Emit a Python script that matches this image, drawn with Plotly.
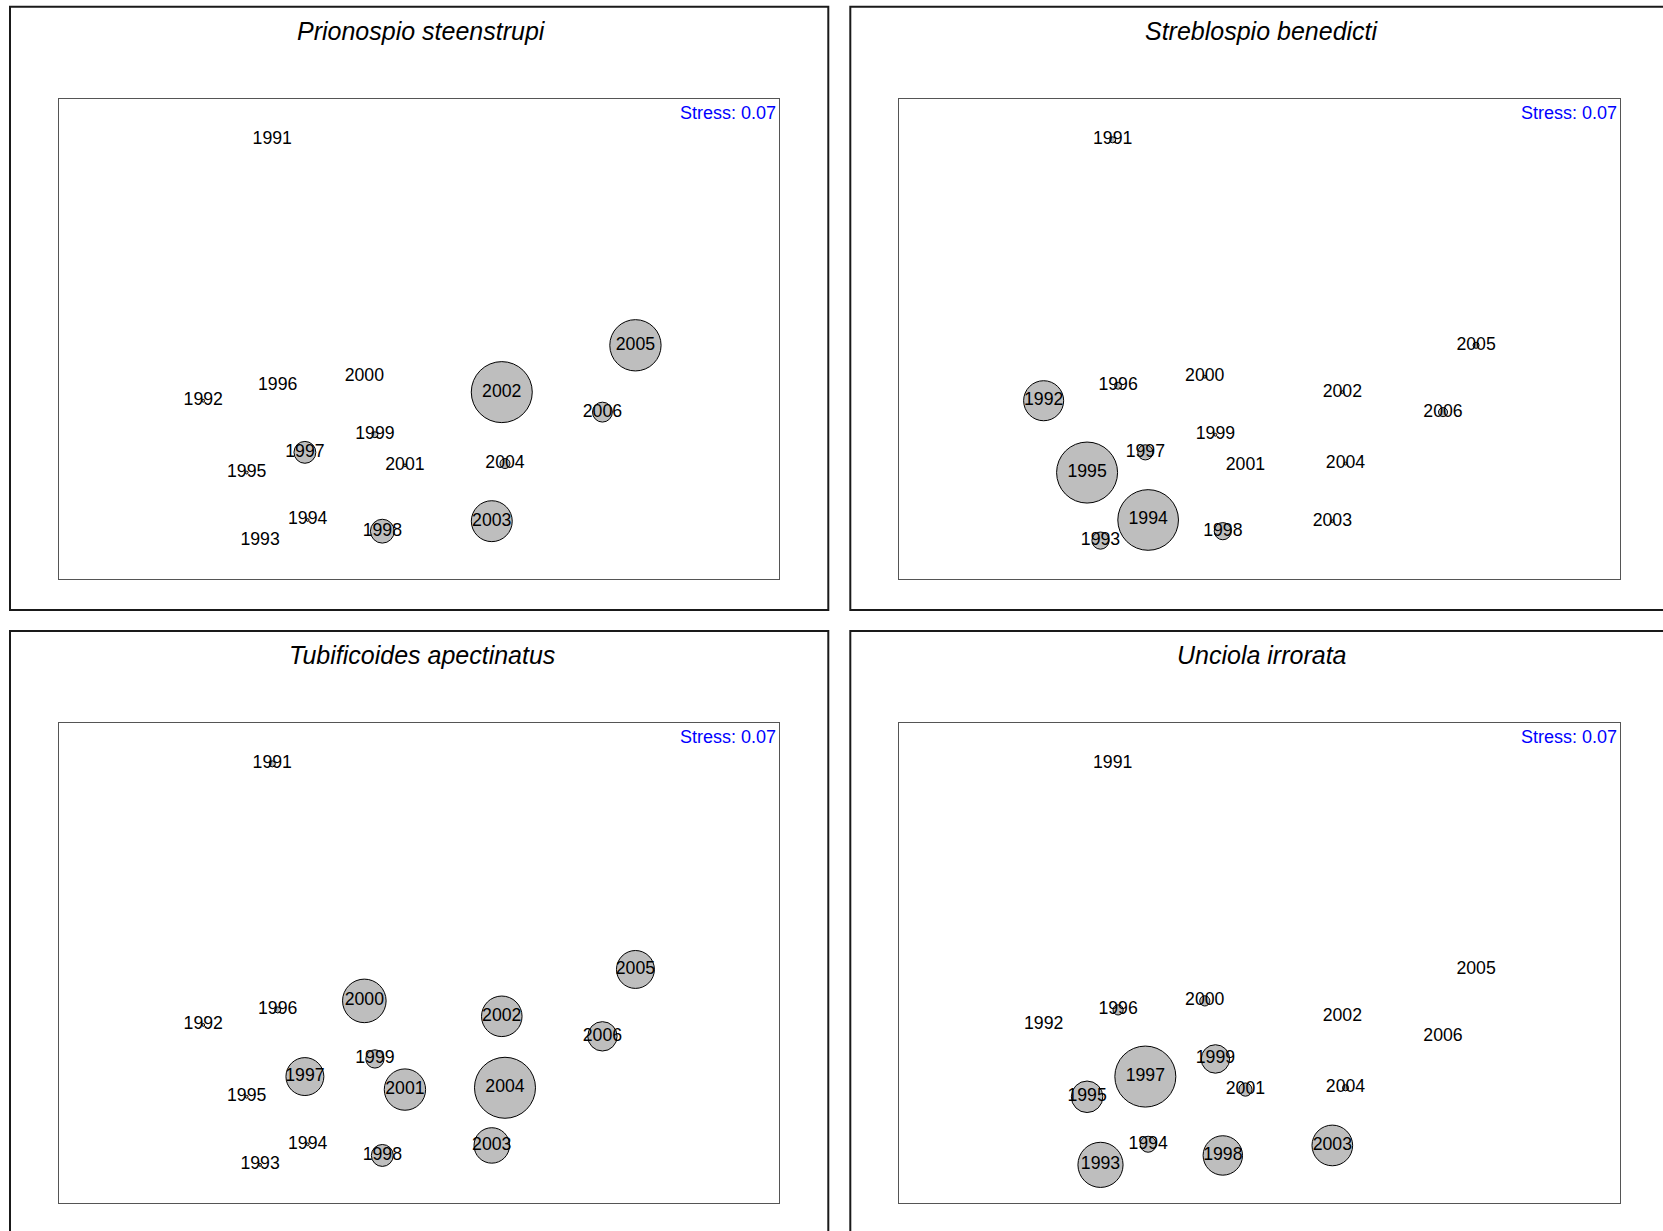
import plotly.graph_objects as go

# ---------------- data ----------------
years = ["1991", "1992", "1993", "1994", "1995", "1996", "1997", "1998",
         "1999", "2000", "2001", "2002", "2003", "2004", "2005", "2006"]

# nMDS ordination coordinates of the yearly samples (same in all panels)
mds1 = [-0.734, -1.079, -0.795, -0.557, -0.862, -0.707, -0.571, -0.184,
        -0.221, -0.274, -0.071, 0.413, 0.363, 0.429, 1.081, 0.916]
mds2 = [0.995, -0.309, -1.008, -0.905, -0.668, -0.234, -0.567, -0.961,
        -0.479, -0.189, -0.632, -0.266, -0.911, -0.623, -0.032, -0.366]

species = ["Prionospio steenstrupi", "Streblospio benedicti",
           "Tubificoides apectinatus", "Unciola irrorata"]

# relative abundance of each species per year (bubble area)
abund_prionospio = [0, 0.2, 0, 0.2, 0.2, 0, 12.1, 14.4,
                    0.9, 0, 0.2, 94.2, 42.4, 2.5, 66.6, 10.0]
abund_streblospio = [0.9, 39.2, 7.2, 90.0, 91.0, 1.2, 5.6, 7.2,
                     0.2, 0.2, 0, 0.2, 0.2, 0.2, 0.9, 2.0]
abund_tubificoides = [0.9, 0.2, 0.2, 0.2, 0.2, 0.9, 35.0, 11.7,
                      8.1, 46.2, 41.6, 40.0, 30.6, 90.6, 35.0, 21.0]
abund_unciola = [0, 0, 49.3, 6.2, 24.0, 2.5, 90.0, 37.6,
                 19.6, 2.5, 4.2, 0, 40.0, 0.9, 0, 0]

stress_value = 0.07

# ---------------- figure ----------------
W, H = 1663, 1231
FONT = "Liberation Sans, Arial, Helvetica, sans-serif"
D_MAX = 61  # diameter (px) of the largest bubble in each panel

panels = [(species[0], abund_prionospio), (species[1], abund_streblospio),
          (species[2], abund_tubificoides), (species[3], abund_unciola)]
axis_ids = ["", "2", "3", "4"]

# pixel geometry
inner_x = [(59.0, 779.3), (899.3, 1620.0)]
inner_y = [(98.8, 579.0), (722.8, 1203.3)]
outer_x = [(10.0, 828.3), (850.3, 1670.0)]
outer_y = [(6.7, 610.0), (631.0, 1240.0)]

fig = go.Figure()
shapes = []
annotations = []
layout_axes = {}

for i, (name, ab) in enumerate(panels):
    sid = axis_ids[i]
    col, row = i % 2, i // 2
    fig.add_trace(go.Scatter(
        x=mds1, y=mds2, text=years, mode="markers+text",
        xaxis="x" + sid, yaxis="y" + sid,
        marker=dict(size=ab, sizemode="area",
                    sizeref=2.0 * max(ab) / D_MAX ** 2,
                    color="#BEBEBE", opacity=1,
                    line=dict(color="black", width=1)),
        textposition="middle center",
        textfont=dict(family=FONT, size=17.7, color="black"),
        cliponaxis=False, hoverinfo="text", showlegend=False,
    ))
    ax = dict(range=[-1.8, 1.8], showgrid=False, zeroline=False,
              showticklabels=False, ticks="", showline=True, mirror=True,
              linecolor="#555555", linewidth=1, fixedrange=True,
              anchor="y" + sid,
              domain=[inner_x[col][0] / W, inner_x[col][1] / W])
    ay = dict(range=[-1.2, 1.2], showgrid=False, zeroline=False,
              showticklabels=False, ticks="", showline=True, mirror=True,
              linecolor="#555555", linewidth=1, fixedrange=True,
              anchor="x" + sid,
              domain=[1 - inner_y[row][1] / H, 1 - inner_y[row][0] / H])
    layout_axes["xaxis" + sid] = ax
    layout_axes["yaxis" + sid] = ay

    # outer frame
    shapes.append(dict(type="rect", xref="paper", yref="paper",
                       x0=outer_x[col][0] / W, x1=outer_x[col][1] / W,
                       y0=1 - outer_y[row][1] / H, y1=1 - outer_y[row][0] / H,
                       line=dict(color="#1a1a1a", width=2),
                       fillcolor="rgba(0,0,0,0)", layer="below"))
    # title
    annotations.append(dict(
        text="<i>" + name + "</i>", xref="paper", yref="paper",
        x=((inner_x[col][0] + inner_x[col][1]) / 2 + 2.5) / W,
        y=1 - (outer_y[row][0] + 24.0) / H,
        xanchor="center", yanchor="middle", showarrow=False,
        font=dict(family=FONT, size=25, color="black")))
    # stress
    annotations.append(dict(
        text="Stress: %.2f" % stress_value,
        xref="x" + sid + " domain", yref="y" + sid + " domain",
        x=1, y=1 - 14.0 / (inner_y[row][1] - inner_y[row][0]),
        xanchor="right", yanchor="middle", xshift=-1, showarrow=False,
        font=dict(family=FONT, size=18, color="blue")))

fig.update_layout(
    width=W, height=H, margin=dict(l=0, r=0, t=0, b=0),
    paper_bgcolor="white", plot_bgcolor="white",
    showlegend=False, shapes=shapes, annotations=annotations,
    **layout_axes)

fig.write_html("out.html",
               config={"displayModeBar": False, "staticPlot": False},
               post_script="document.body.style.margin='0';"
                           "document.body.style.overflow='hidden';")
